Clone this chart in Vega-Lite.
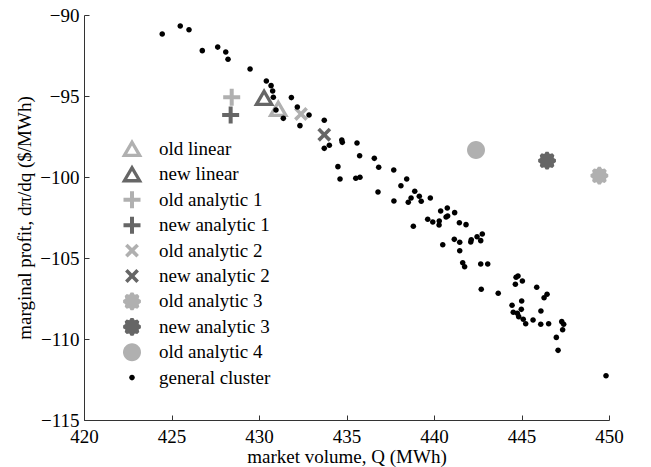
{
  "$schema": "https://vega.github.io/schema/vega-lite/v6.json",
  "width": 525,
  "height": 405,
  "autosize": {"type": "none"},
  "padding": {"left": 84, "top": 15, "right": 42, "bottom": 47},
  "background": "white",
  "config": {
    "view": {"stroke": null},
    "font": "Liberation Serif",
    "axis": {
      "labelFont": "Liberation Serif",
      "labelFontSize": 19,
      "labelColor": "black",
      "titleFont": "Liberation Serif",
      "titleFontSize": 19,
      "titleFontWeight": "normal",
      "titleColor": "black",
      "domainColor": "#333333",
      "tickColor": "#333333",
      "tickSize": -5,
      "grid": false,
      "labelFlush": false,
      "labelOverlap": false
    }
  },
  "data": {
    "values": [
      {"Q": 431.10, "m": -95.80, "series": "old linear"},
      {"Q": 430.29, "m": -95.12, "series": "new linear"},
      {"Q": 428.44, "m": -95.08, "series": "old analytic 1"},
      {"Q": 428.38, "m": -96.17, "series": "new analytic 1"},
      {"Q": 432.40, "m": -96.11, "series": "old analytic 2"},
      {"Q": 433.73, "m": -97.39, "series": "new analytic 2"},
      {"Q": 449.45, "m": -99.92, "series": "old analytic 3"},
      {"Q": 446.46, "m": -98.99, "series": "new analytic 3"},
      {"Q": 442.40, "m": -98.33, "series": "old analytic 4"},
      {"Q": 424.47, "m": -91.17, "series": "general cluster"},
      {"Q": 425.50, "m": -90.68, "series": "general cluster"},
      {"Q": 426.00, "m": -90.91, "series": "general cluster"},
      {"Q": 426.76, "m": -92.20, "series": "general cluster"},
      {"Q": 427.64, "m": -91.98, "series": "general cluster"},
      {"Q": 428.10, "m": -92.28, "series": "general cluster"},
      {"Q": 428.23, "m": -92.73, "series": "general cluster"},
      {"Q": 429.49, "m": -93.33, "series": "general cluster"},
      {"Q": 430.42, "m": -94.07, "series": "general cluster"},
      {"Q": 430.69, "m": -94.36, "series": "general cluster"},
      {"Q": 430.78, "m": -94.69, "series": "general cluster"},
      {"Q": 430.82, "m": -95.08, "series": "general cluster"},
      {"Q": 430.97, "m": -95.86, "series": "general cluster"},
      {"Q": 431.39, "m": -96.38, "series": "general cluster"},
      {"Q": 431.85, "m": -95.10, "series": "general cluster"},
      {"Q": 432.19, "m": -95.68, "series": "general cluster"},
      {"Q": 432.34, "m": -96.83, "series": "general cluster"},
      {"Q": 432.86, "m": -96.17, "series": "general cluster"},
      {"Q": 433.73, "m": -96.50, "series": "general cluster"},
      {"Q": 434.02, "m": -98.04, "series": "general cluster"},
      {"Q": 433.73, "m": -98.23, "series": "general cluster"},
      {"Q": 434.73, "m": -97.72, "series": "general cluster"},
      {"Q": 434.76, "m": -97.86, "series": "general cluster"},
      {"Q": 435.60, "m": -97.90, "series": "general cluster"},
      {"Q": 435.75, "m": -98.69, "series": "general cluster"},
      {"Q": 436.59, "m": -98.85, "series": "general cluster"},
      {"Q": 436.84, "m": -99.40, "series": "general cluster"},
      {"Q": 434.51, "m": -99.36, "series": "general cluster"},
      {"Q": 434.63, "m": -100.12, "series": "general cluster"},
      {"Q": 435.53, "m": -100.08, "series": "general cluster"},
      {"Q": 435.77, "m": -100.02, "series": "general cluster"},
      {"Q": 437.70, "m": -99.57, "series": "general cluster"},
      {"Q": 438.44, "m": -100.12, "series": "general cluster"},
      {"Q": 438.11, "m": -100.54, "series": "general cluster"},
      {"Q": 438.90, "m": -100.88, "series": "general cluster"},
      {"Q": 436.80, "m": -100.93, "series": "general cluster"},
      {"Q": 438.69, "m": -101.30, "series": "general cluster"},
      {"Q": 438.53, "m": -101.56, "series": "general cluster"},
      {"Q": 439.16, "m": -101.19, "series": "general cluster"},
      {"Q": 439.27, "m": -101.50, "series": "general cluster"},
      {"Q": 439.79, "m": -101.30, "series": "general cluster"},
      {"Q": 437.71, "m": -101.48, "series": "general cluster"},
      {"Q": 440.38, "m": -102.10, "series": "general cluster"},
      {"Q": 440.76, "m": -101.91, "series": "general cluster"},
      {"Q": 441.18, "m": -102.20, "series": "general cluster"},
      {"Q": 440.69, "m": -102.47, "series": "general cluster"},
      {"Q": 440.78, "m": -102.41, "series": "general cluster"},
      {"Q": 439.64, "m": -102.61, "series": "general cluster"},
      {"Q": 439.93, "m": -102.78, "series": "general cluster"},
      {"Q": 440.30, "m": -102.72, "series": "general cluster"},
      {"Q": 440.29, "m": -102.96, "series": "general cluster"},
      {"Q": 441.45, "m": -102.82, "series": "general cluster"},
      {"Q": 441.83, "m": -102.94, "series": "general cluster"},
      {"Q": 438.82, "m": -103.04, "series": "general cluster"},
      {"Q": 441.16, "m": -103.85, "series": "general cluster"},
      {"Q": 441.47, "m": -104.03, "series": "general cluster"},
      {"Q": 440.50, "m": -104.18, "series": "general cluster"},
      {"Q": 441.47, "m": -104.55, "series": "general cluster"},
      {"Q": 442.10, "m": -104.01, "series": "general cluster"},
      {"Q": 442.13, "m": -103.87, "series": "general cluster"},
      {"Q": 442.46, "m": -103.69, "series": "general cluster"},
      {"Q": 442.67, "m": -103.93, "series": "general cluster"},
      {"Q": 442.76, "m": -103.52, "series": "general cluster"},
      {"Q": 441.64, "m": -105.29, "series": "general cluster"},
      {"Q": 441.75, "m": -105.54, "series": "general cluster"},
      {"Q": 442.67, "m": -105.37, "series": "general cluster"},
      {"Q": 443.07, "m": -105.37, "series": "general cluster"},
      {"Q": 444.69, "m": -106.19, "series": "general cluster"},
      {"Q": 444.80, "m": -106.11, "series": "general cluster"},
      {"Q": 445.05, "m": -106.42, "series": "general cluster"},
      {"Q": 444.65, "m": -106.62, "series": "general cluster"},
      {"Q": 445.87, "m": -106.81, "series": "general cluster"},
      {"Q": 442.70, "m": -106.93, "series": "general cluster"},
      {"Q": 443.67, "m": -107.18, "series": "general cluster"},
      {"Q": 446.46, "m": -107.24, "series": "general cluster"},
      {"Q": 446.29, "m": -107.45, "series": "general cluster"},
      {"Q": 444.46, "m": -107.92, "series": "general cluster"},
      {"Q": 445.01, "m": -107.65, "series": "general cluster"},
      {"Q": 444.99, "m": -108.17, "series": "general cluster"},
      {"Q": 444.53, "m": -108.35, "series": "general cluster"},
      {"Q": 444.76, "m": -108.41, "series": "general cluster"},
      {"Q": 444.84, "m": -108.62, "series": "general cluster"},
      {"Q": 445.10, "m": -108.78, "series": "general cluster"},
      {"Q": 445.24, "m": -109.06, "series": "general cluster"},
      {"Q": 445.66, "m": -108.83, "series": "general cluster"},
      {"Q": 446.11, "m": -108.27, "series": "general cluster"},
      {"Q": 446.10, "m": -109.09, "series": "general cluster"},
      {"Q": 446.55, "m": -109.06, "series": "general cluster"},
      {"Q": 447.30, "m": -108.93, "series": "general cluster"},
      {"Q": 447.41, "m": -109.09, "series": "general cluster"},
      {"Q": 447.35, "m": -109.43, "series": "general cluster"},
      {"Q": 446.99, "m": -109.90, "series": "general cluster"},
      {"Q": 447.09, "m": -110.70, "series": "general cluster"},
      {"Q": 449.83, "m": -112.27, "series": "general cluster"}
    ]
  },
  "mark": {"type": "point", "filled": true, "size": 400, "opacity": 1, "strokeWidth": 0},
  "encoding": {
    "x": {
      "field": "Q",
      "type": "quantitative",
      "scale": {"domain": [420, 450], "nice": false, "zero": false},
      "axis": {
        "values": [420, 425, 430, 435, 440, 445, 450],
        "labelPadding": 12,
        "title": "market volume,  Q (MWh)",
        "titlePadding": 1
      }
    },
    "y": {
      "field": "m",
      "type": "quantitative",
      "scale": {"domain": [-115, -90], "nice": false, "zero": false},
      "axis": {
        "values": [-115, -110, -105, -100, -95, -90],
        "labelPadding": 10,
        "title": "marginal profit, dπ/dq ($/MWh)",
        "titlePadding": 5
      }
    },
    "color": {
      "field": "series",
      "type": "nominal",
      "scale": {
        "domain": ["old linear", "new linear", "old analytic 1", "new analytic 1", "old analytic 2", "new analytic 2", "old analytic 3", "new analytic 3", "old analytic 4", "general cluster"],
        "range": ["#b0b0b0", "#666666", "#b0b0b0", "#666666", "#b0b0b0", "#666666", "#b0b0b0", "#666666", "#b0b0b0", "#000000"]
      },
      "legend": {
        "orient": "none",
        "legendX": 38,
        "legendY": 124,
        "title": null,
        "padding": 0,
        "labelFont": "Liberation Serif",
        "labelFontSize": 19,
        "labelColor": "black",
        "labelOffset": 17,
        "labelLimit": 300,
        "symbolSize": 400,
        "symbolStrokeWidth": 0,
        "symbolOpacity": 1,
        "rowPadding": 5.4
      }
    },
    "shape": {
      "field": "series",
      "type": "nominal",
      "scale": {
        "domain": ["old linear", "new linear", "old analytic 1", "new analytic 1", "old analytic 2", "new analytic 2", "old analytic 3", "new analytic 3", "old analytic 4", "general cluster"],
        "range": [
          "M0,-1L1.05,0.8L-1.05,0.8Z M0,-0.345L-0.476,0.47L0.476,0.47Z",
          "M0,-1L1.05,0.8L-1.05,0.8Z M0,-0.345L-0.476,0.47L0.476,0.47Z",
          "M-0.2,-0.85H0.2V-0.2H0.85V0.2H0.2V0.85H-0.2V0.2H-0.85V-0.2H-0.2Z",
          "M-0.2,-0.85H0.2V-0.2H0.85V0.2H0.2V0.85H-0.2V0.2H-0.85V-0.2H-0.2Z",
          "M0.438,-0.693L0.693,-0.438L0.255,0L0.693,0.438L0.438,0.693L0,0.255L-0.438,0.693L-0.693,0.438L-0.255,0L-0.693,-0.438L-0.438,-0.693L0,-0.255Z",
          "M0.438,-0.693L0.693,-0.438L0.255,0L0.693,0.438L0.438,0.693L0,0.255L-0.438,0.693L-0.693,0.438L-0.255,0L-0.693,-0.438L-0.438,-0.693L0,-0.255Z",
          "M0.889,-0.141L0.889,0.141L0.665,0.276L0.728,0.529L0.529,0.728L0.276,0.665L0.141,0.889L-0.141,0.889L-0.276,0.665L-0.529,0.728L-0.728,0.529L-0.665,0.276L-0.889,0.141L-0.889,-0.141L-0.665,-0.276L-0.728,-0.529L-0.529,-0.728L-0.276,-0.665L-0.141,-0.889L0.141,-0.889L0.276,-0.665L0.529,-0.728L0.728,-0.529L0.665,-0.276Z",
          "M0.889,-0.141L0.889,0.141L0.665,0.276L0.728,0.529L0.529,0.728L0.276,0.665L0.141,0.889L-0.141,0.889L-0.276,0.665L-0.529,0.728L-0.728,0.529L-0.665,0.276L-0.889,0.141L-0.889,-0.141L-0.665,-0.276L-0.728,-0.529L-0.529,-0.728L-0.276,-0.665L-0.141,-0.889L0.141,-0.889L0.276,-0.665L0.529,-0.728L0.728,-0.529L0.665,-0.276Z",
          "M0.9,0A0.9,0.9 0 1,1 -0.9,0A0.9,0.9 0 1,1 0.9,0Z",
          "M0.28,0A0.28,0.28 0 1,1 -0.28,0A0.28,0.28 0 1,1 0.28,0Z"
        ]
      }
    }
  }
}
